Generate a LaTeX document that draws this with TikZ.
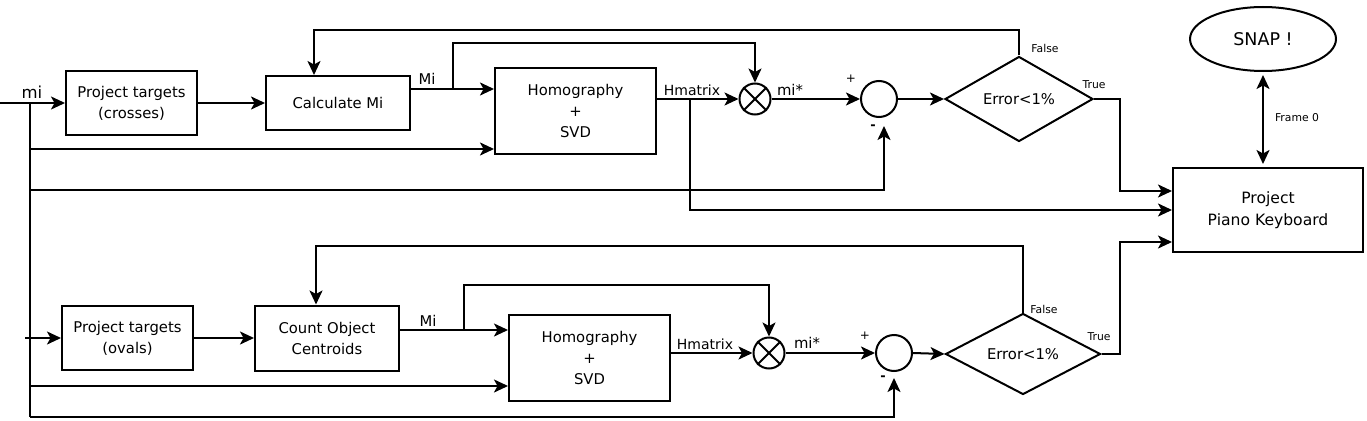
\documentclass[tikz,border=0pt]{standalone}
\usepackage{fontspec}
\setmainfont{DejaVu Sans}
\usetikzlibrary{shapes.geometric,arrows.meta}
\begin{document}
\begin{tikzpicture}[x=1pt,y=-1pt,line width=2pt,
  >={Stealth[length=14pt,width=13pt,inset=3.5pt]},
  every node/.style={font=\fontsize{14.8}{21}\selectfont},
  blk/.style={draw,rectangle,inner sep=0pt,align=center},
  mulc/.style={draw,circle,inner sep=0pt,minimum size=31pt},
  sumc/.style={draw,circle,inner sep=0pt,minimum size=36pt},
  dec/.style={draw,diamond,inner sep=0pt,aspect=1.74},
  small/.style={font=\fontsize{10.8}{13}\selectfont,inner sep=0pt},
  lbl/.style={inner sep=0pt}]
\fill[white] (0,0) rectangle (1367,420);
\useasboundingbox (0,0) rectangle (1367,420);

% ---------- top row ----------
\node[blk,minimum width=131pt,minimum height=64pt] (pc) at (131.5,103) {Project targets\\(crosses)};
\node[blk,minimum width=144pt,minimum height=54pt] (cm) at (338,103) {Calculate Mi};
\node[blk,minimum width=161pt,minimum height=86pt] (h1) at (575.5,111) {Homography\\+\\SVD};
\node[mulc] (m1) at (755,99) {};
\node[sumc] (s1) at (879,99) {};
\node[dec,minimum width=148pt,minimum height=85pt] (d1) at (1019,99) {Error<1\%};

% ---------- right side ----------
\node[blk,minimum width=190pt,minimum height=84pt,font=\fontsize{15.6}{22}\selectfont] (pk) at (1268,210) {Project\\Piano Keyboard};
\node[draw,ellipse,inner sep=0pt,minimum width=146pt,minimum height=64pt,font=\fontsize{17.5}{21}\selectfont] (snap) at (1263,39) {SNAP !};

% ---------- bottom row ----------
\node[blk,minimum width=131pt,minimum height=64pt] (po) at (127.5,338) {Project targets\\(ovals)};
\node[blk,minimum width=144pt,minimum height=65pt] (cc) at (327,338) {Count Object\\Centroids};
\node[blk,minimum width=161pt,minimum height=86pt] (h2) at (589.5,358) {Homography\\+\\SVD};
\node[mulc] (m2) at (769,353) {};
\node[sumc] (s2) at (894,353) {};
\node[dec,minimum width=155pt,minimum height=81pt] (d2) at (1023,354) {Error<1\%};

% crosses in multipliers
\foreach \m in {m1,m2}{
  \draw (\m.north east) -- (\m.south west);
  \draw (\m.north west) -- (\m.south east);
}

% ---------- coordinates ----------
\coordinate (in1) at (0,103);
\coordinate (j1) at (30,103);
\coordinate (jb) at (30,417);
\coordinate (a1) at (30,149);
\coordinate (a2) at (30,190);
\coordinate (j2s) at (25,338);
\coordinate (a3) at (30,386);
\coordinate (mi1) at (453,89);
\coordinate (t1) at (453,43);
\coordinate (mi2) at (464,330);
\coordinate (t2) at (464,285);
\coordinate (b1) at (690,99);
\coordinate (f1) at (314,30);
\coordinate (f2) at (316,246);
\coordinate (tr1) at (1120,99);
\coordinate (tr2) at (1120,354);
\coordinate (y191) at (0,191);
\coordinate (y242) at (0,242);

% ---------- connectors top ----------
\draw[->] (in1) -- (pc.west);
\draw (j1) -- (jb);
\draw[->] (pc) -- (cm);
\draw[->] (cm.east |- mi1) -- (h1.west |- mi1);
\draw[->] (mi1) -- (t1) -| (m1.north);
\draw[->] (a1) -- (a1 -| h1.west);
\draw[->] (a2) -| ([xshift=5pt,yshift=-8pt]s1.south);
\draw[->] (h1.east |- m1.west) -- (m1.west);
\draw[->] (b1) |- (pk.west);
\draw[->] (m1.east) -- (s1.west);
\draw[->] (s1.east) -- (d1.west);
\draw[->] (d1.north) |- (f1) -- (f1 |- cm.north);
\draw[->] (d1.east) -- (tr1) |- (pk.west |- y191);
\draw[<->] ([yshift=-3pt]snap.south) -- ([yshift=3pt]snap.south |- pk.north);

% ---------- connectors bottom ----------
\draw[->] (j2s) -- (po.west);
\draw[->] (po) -- (cc);
\draw[->] (cc.east |- mi2) -- (h2.west |- mi2);
\draw[->] (mi2) -- (t2) -| (m2.north);
\draw[->] (a3) -- (a3 -| h2.west);
\draw[->] (jb) -| ([yshift=-6pt]s2.south);
\draw[->] (h2.east |- m2.west) -- (m2.west);
\draw[->] (m2.east) -- (s2.west);
\draw[->] (s2.east) -- (d2.west);
\draw[->] (d2.north) |- (f2) -- (f2 |- cc.north);
\draw[->] (d2.east) -- (tr2) |- (pk.west |- y242);

% ---------- labels ----------
\node[lbl,font=\fontsize{16.5}{20}\selectfont] (lmi) at (32,92) {mi};
\node[lbl] (lM1) at (427,79) {Mi};
\node[lbl] (lM2) at (428,321) {Mi};
\node[lbl,font=\fontsize{14}{18}\selectfont] (lH1) at (692,90) {Hmatrix};
\node[lbl,font=\fontsize{14}{18}\selectfont] (lH2) at (705,344) {Hmatrix};
\node[lbl] (ls1) at (790,90) {mi*};
\node[lbl] (ls2) at (807,343) {mi*};
\node[lbl,font=\fontsize{12}{14}\selectfont] (lp1) at (851,79) {+};
\node[lbl,font=\fontsize{12}{14}\selectfont] (lp2) at (865,336) {+};
\node[lbl,font=\bfseries\fontsize{13}{14}\selectfont] (ln1) at (873,127) {-};
\node[lbl,font=\bfseries\fontsize{13}{14}\selectfont] (ln2) at (883,378) {-};
\node[small] (lf1) at (1045,48) {False};
\node[small] (lf2) at (1044,309) {False};
\node[small] (lt1) at (1094,85) {True};
\node[small] (lt2) at (1099,337) {True};
\node[small] (lfr) at (1297,118) {Frame 0};
\end{tikzpicture}
\end{document}
